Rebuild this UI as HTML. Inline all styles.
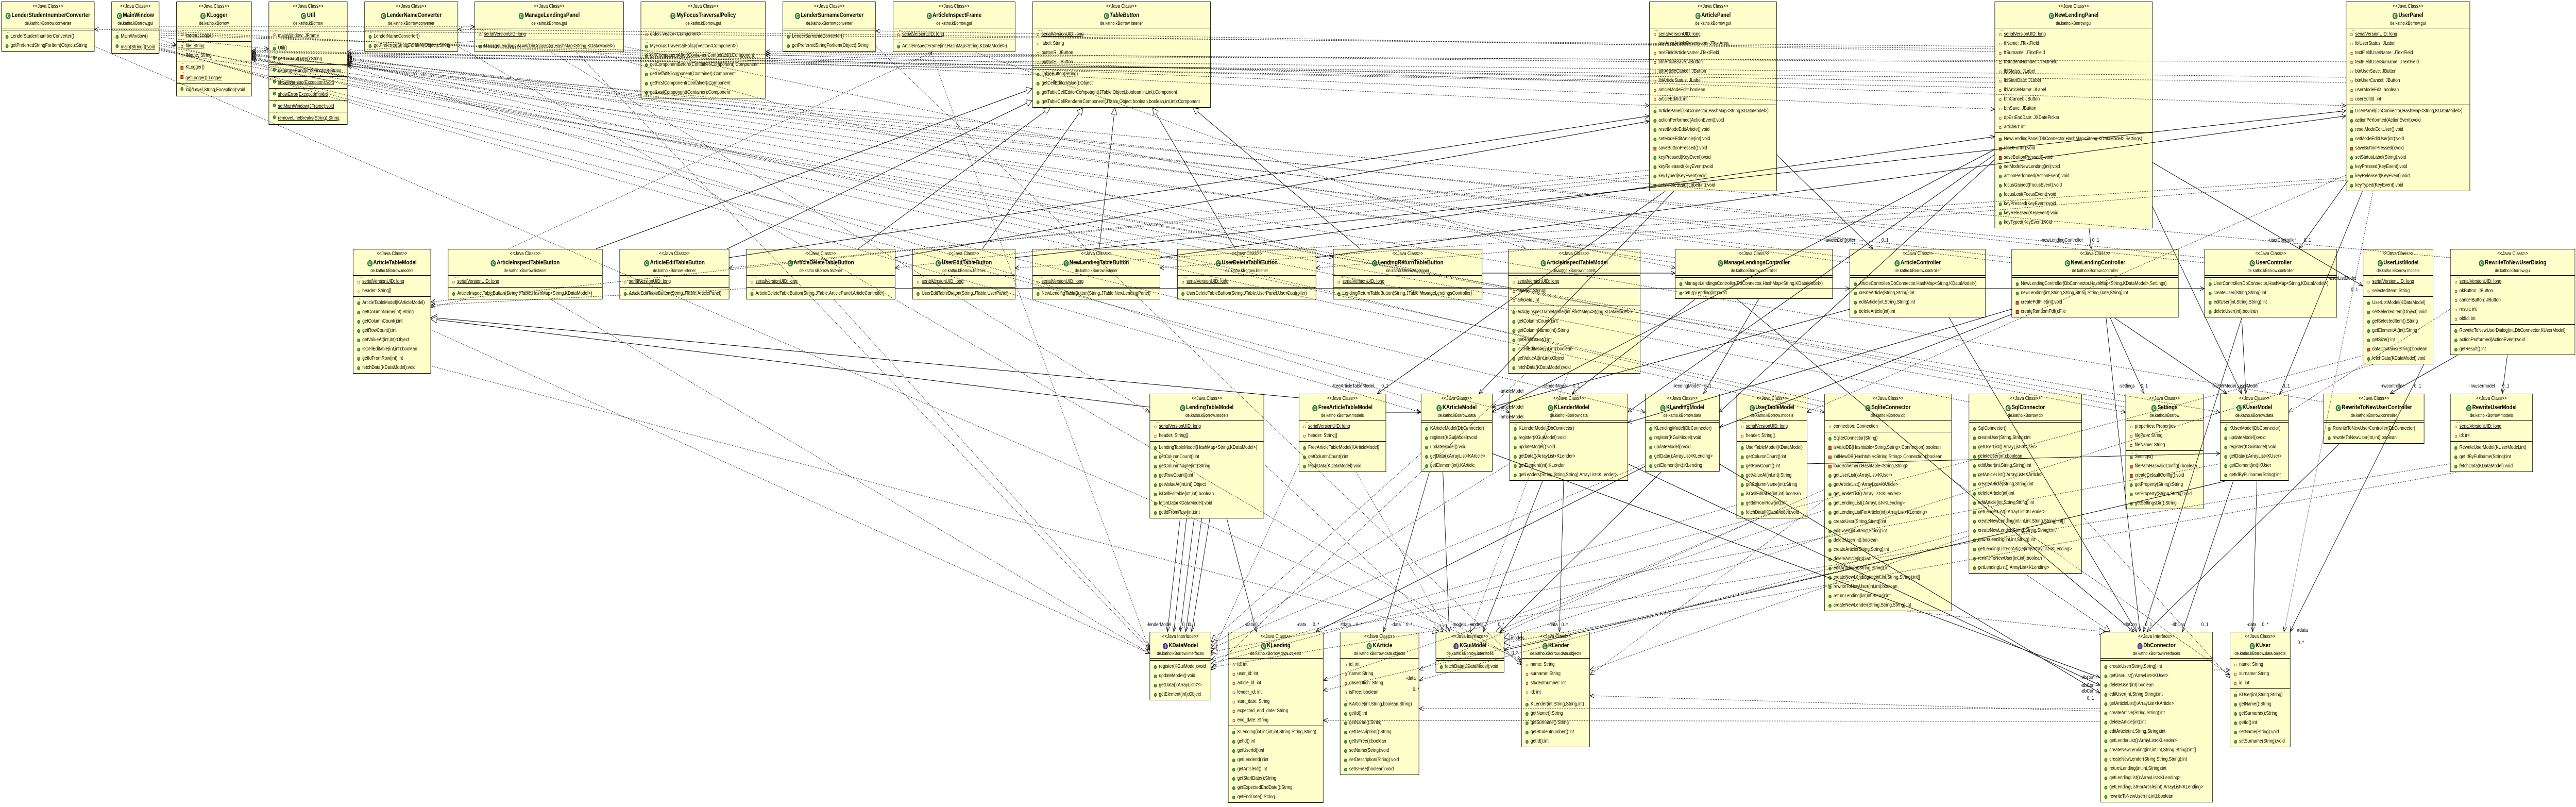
<!DOCTYPE html>
<html><head><meta charset="utf-8">
<style>
*{margin:0;padding:0}
html,body{overflow:hidden;background:#fff}
body{position:relative;width:100%;height:1566px;font-family:"Liberation Sans",Arial,sans-serif;color:#000}
#root{position:absolute;left:0;top:0;width:6079px;height:1566px;transform-origin:0 0;overflow:hidden;background:#fff}
.b{position:absolute;box-sizing:border-box;border:1px solid #000;background:#ffffcc;overflow:hidden}
.h{height:51px;border-bottom:1px solid #000;box-sizing:border-box;text-align:center;padding-top:2px;white-space:nowrap;overflow:hidden}
.st{font-size:10px;line-height:14px}
.nm{font-size:12px;font-weight:bold;line-height:18px}
.pk{font-size:9px;line-height:14px}
.s{padding:3px 0 1px;border-bottom:1px solid #000}
.s.e{padding:2px 0 1px}
.s:last-child{border-bottom:0}
.r{position:relative;height:18px;line-height:18px;padding-left:21px;font-size:10px;white-space:nowrap;overflow:hidden}
.r::before{content:"";position:absolute;left:9px;top:6px;width:7px;height:7px;border-radius:50%;background:#4aa352;box-shadow:inset 0 0 0 1px #2b6f32}
.r.pv::before{border-radius:0;background:#d9534f;box-shadow:inset 0 0 0 1px #8e1f1f}
.r.pa::before{border-radius:0;width:5px;height:5px;left:10px;top:7px;background:#fff;box-shadow:inset 0 0 0 1px #c83232}
.r.pr::before{border-radius:0;width:5px;height:5px;left:10px;top:7px;background:#fff;box-shadow:inset 0 0 0 1px #d4a017;transform:rotate(45deg)}
.r::after{position:absolute;left:13px;top:-4px;font-size:7px;line-height:10px}
.r.k::after{content:"c";color:#2b6f32}
.r.s::after{content:"S";color:#b02020}
.r.f::after{content:"F";color:#2040b0}
.r.sf::after{content:"S F";color:#b02020}
.ci{display:inline-block;width:12px;height:12px;border-radius:50%;background:#3d9447;color:#fff;font-style:normal;font-size:9px;line-height:12px;text-align:center;margin-right:2px;vertical-align:-1px;box-shadow:inset 0 0 0 1px #1f5e27}
.ii{background:#5b4aa8;box-shadow:inset 0 0 0 1px #33256e}
svg{position:absolute;left:0;top:0;overflow:hidden}
svg text{font-family:"Liberation Sans",Arial,sans-serif;font-size:10px;fill:#000;stroke:none}
</style></head><body>
<div id="root">

<!-- ROW 1 -->
<div class="b" style="left:3px;top:3px;width:220px"><div class="h"><div class="st">&lt;&lt;Java Class&gt;&gt;</div><div class="nm"><i class="ci">C</i>LenderStudentnumberConverter</div><div class="pk">de.katho.kBorrow.converter</div></div><div class="s e"></div><div class="s"><div class="r k">LenderStudentnumberConverter()</div><div class="r">getPreferredStringForItem(Object):String</div></div></div>

<div class="b" style="left:263px;top:3px;width:113px"><div class="h"><div class="st">&lt;&lt;Java Class&gt;&gt;</div><div class="nm"><i class="ci">C</i>MainWindow</div><div class="pk">de.katho.kBorrow.gui</div></div><div class="s e"></div><div class="s"><div class="r k">MainWindow()</div><div class="r s"><u>main(String[]):void</u></div></div></div>

<div class="b" style="left:416px;top:3px;width:178px"><div class="h"><div class="st">&lt;&lt;Java Class&gt;&gt;</div><div class="nm"><i class="ci">C</i>KLogger</div><div class="pk">de.katho.kBorrow</div></div><div class="s"><div class="r pa s"><u>logger: Logger</u></div><div class="r pa sf"><u>file: String</u></div><div class="r pa f">fName: String</div></div><div class="s"><div class="r pv k">KLogger()</div><div class="r pv s"><u>getLogger():Logger</u></div><div class="r s"><u>log(Level,String,Exception):void</u></div></div></div>

<div class="b" style="left:634px;top:3px;width:186px"><div class="h"><div class="st">&lt;&lt;Java Class&gt;&gt;</div><div class="nm"><i class="ci">C</i>Util</div><div class="pk">de.katho.kBorrow</div></div><div class="s"><div class="r pa s"><u>mainWindow: JFrame</u></div></div><div class="s"><div class="r k">Util()</div><div class="r s"><u>getCurrentDate():String</u></div><div class="r s"><u>generateRandomString(int):String</u></div><div class="r s"><u>showWarning(Exception):void</u></div><div class="r s"><u>showError(Exception):void</u></div><div class="r s"><u>setMainWindow(JFrame):void</u></div><div class="r s"><u>removeLineBreaks(String):String</u></div></div></div>

<div class="b" style="left:860px;top:3px;width:221px"><div class="h"><div class="st">&lt;&lt;Java Class&gt;&gt;</div><div class="nm"><i class="ci">C</i>LenderNameConverter</div><div class="pk">de.katho.kBorrow.converter</div></div><div class="s e"></div><div class="s"><div class="r k">LenderNameConverter()</div><div class="r">getPreferredStringForItem(Object):String</div></div></div>

<div class="b" style="left:1120px;top:3px;width:352px"><div class="h"><div class="st">&lt;&lt;Java Class&gt;&gt;</div><div class="nm"><i class="ci">C</i>ManageLendingsPanel</div><div class="pk">de.katho.kBorrow.gui</div></div><div class="s"><div class="r pa sf"><u>serialVersionUID: long</u></div></div><div class="s"><div class="r k">ManageLendingsPanel(DbConnector,HashMap&lt;String,KDataModel&gt;)</div></div></div>

<div class="b" style="left:1512px;top:3px;width:295px"><div class="h"><div class="st">&lt;&lt;Java Class&gt;&gt;</div><div class="nm"><i class="ci">C</i>MyFocusTraversalPolicy</div><div class="pk">de.katho.kBorrow.gui</div></div><div class="s"><div class="r pa">order: Vector&lt;Component&gt;</div></div><div class="s"><div class="r k">MyFocusTraversalPolicy(Vector&lt;Component&gt;)</div><div class="r">getComponentAfter(Container,Component):Component</div><div class="r">getComponentBefore(Container,Component):Component</div><div class="r">getDefaultComponent(Container):Component</div><div class="r">getFirstComponent(Container):Component</div><div class="r">getLastComponent(Container):Component</div></div></div>

<div class="b" style="left:1847px;top:3px;width:220px"><div class="h"><div class="st">&lt;&lt;Java Class&gt;&gt;</div><div class="nm"><i class="ci">C</i>LenderSurnameConverter</div><div class="pk">de.katho.kBorrow.converter</div></div><div class="s e"></div><div class="s"><div class="r k">LenderSurnameConverter()</div><div class="r">getPreferredStringForItem(Object):String</div></div></div>

<div class="b" style="left:2107px;top:3px;width:289px"><div class="h"><div class="st">&lt;&lt;Java Class&gt;&gt;</div><div class="nm"><i class="ci">C</i>ArticleInspectFrame</div><div class="pk">de.katho.kBorrow.gui</div></div><div class="s"><div class="r pa sf"><u>serialVersionUID: long</u></div></div><div class="s"><div class="r k">ArticleInspectFrame(int,HashMap&lt;String,KDataModel&gt;)</div></div></div>

<div class="b" style="left:2436px;top:3px;width:421px"><div class="h"><div class="st">&lt;&lt;Java Class&gt;&gt;</div><div class="nm"><i class="ci">C</i><i>TableButton</i></div><div class="pk">de.katho.kBorrow.listener</div></div><div class="s"><div class="r pa sf"><u>serialVersionUID: long</u></div><div class="r pa">label: String</div><div class="r pr">buttonR: JButton</div><div class="r pr">buttonE: JButton</div></div><div class="s"><div class="r k">TableButton(String)</div><div class="r">getCellEditorValue():Object</div><div class="r">getTableCellEditorComponent(JTable,Object,boolean,int,int):Component</div><div class="r">getTableCellRendererComponent(JTable,Object,boolean,boolean,int,int):Component</div></div></div>

<div class="b" style="left:3892px;top:3px;width:301px"><div class="h"><div class="st">&lt;&lt;Java Class&gt;&gt;</div><div class="nm"><i class="ci">C</i>ArticlePanel</div><div class="pk">de.katho.kBorrow.gui</div></div><div class="s"><div class="r pa sf"><u>serialVersionUID: long</u></div><div class="r pa">textAreaArticleDescription: JTextArea</div><div class="r pa">textFieldArticleName: JTextField</div><div class="r pa">btnArticleSave: JButton</div><div class="r pa">btnArticleCancel: JButton</div><div class="r pa">lblArticleStatus: JLabel</div><div class="r pa">articleModeEdit: boolean</div><div class="r pa">articleEditId: int</div></div><div class="s"><div class="r k">ArticlePanel(DbConnector,HashMap&lt;String,KDataModel&gt;)</div><div class="r">actionPerformed(ActionEvent):void</div><div class="r">resetModeEditArticle():void</div><div class="r">setModeEditArticle(int):void</div><div class="r pv">saveButtonPressed():void</div><div class="r">keyPressed(KeyEvent):void</div><div class="r">keyReleased(KeyEvent):void</div><div class="r">keyTyped(KeyEvent):void</div><div class="r">setDeleteStatusLabel(int):void</div></div></div>

<div class="b" style="left:4707px;top:3px;width:373px"><div class="h"><div class="st">&lt;&lt;Java Class&gt;&gt;</div><div class="nm"><i class="ci">C</i>NewLendingPanel</div><div class="pk">de.katho.kBorrow.gui</div></div><div class="s"><div class="r pa sf"><u>serialVersionUID: long</u></div><div class="r pa">tfName: JTextField</div><div class="r pa">tfSurname: JTextField</div><div class="r pa">tfStudentNumber: JTextField</div><div class="r pa">lblStatus: JLabel</div><div class="r pa">lblStartDate: JLabel</div><div class="r pa">lblArticleName: JLabel</div><div class="r pa">btnCancel: JButton</div><div class="r pa">btnSave: JButton</div><div class="r pa">dpEstEndDate: JXDatePicker</div><div class="r pa">articleId: int</div></div><div class="s"><div class="r k">NewLendingPanel(DbConnector,HashMap&lt;String,KDataModel&gt;,Settings)</div><div class="r pv">resetForm():void</div><div class="r pv">saveButtonPressed():void</div><div class="r">setModeNewLending(int):void</div><div class="r">actionPerformed(ActionEvent):void</div><div class="r">focusGained(FocusEvent):void</div><div class="r">focusLost(FocusEvent):void</div><div class="r">keyPressed(KeyEvent):void</div><div class="r">keyReleased(KeyEvent):void</div><div class="r">keyTyped(KeyEvent):void</div></div></div>

<div class="b" style="left:5536px;top:3px;width:293px"><div class="h"><div class="st">&lt;&lt;Java Class&gt;&gt;</div><div class="nm"><i class="ci">C</i>UserPanel</div><div class="pk">de.katho.kBorrow.gui</div></div><div class="s"><div class="r pa sf"><u>serialVersionUID: long</u></div><div class="r pa">lblUserStatus: JLabel</div><div class="r pa">textFieldUserName: JTextField</div><div class="r pa">textFieldUserSurname: JTextField</div><div class="r pa">btnUserSave: JButton</div><div class="r pa">btnUserCancel: JButton</div><div class="r pa">userModeEdit: boolean</div><div class="r pa">userEditId: int</div></div><div class="s"><div class="r k">UserPanel(DbConnector,HashMap&lt;String,KDataModel&gt;)</div><div class="r">actionPerformed(ActionEvent):void</div><div class="r">resetModeEditUser():void</div><div class="r">setModeEditUser(int):void</div><div class="r pv">saveButtonPressed():void</div><div class="r">setStatusLabel(String):void</div><div class="r">keyPressed(KeyEvent):void</div><div class="r">keyReleased(KeyEvent):void</div><div class="r">keyTyped(KeyEvent):void</div></div></div>

<!-- ROW 2 -->
<div class="b" style="left:833px;top:483px;width:184px"><div class="h"><div class="st">&lt;&lt;Java Class&gt;&gt;</div><div class="nm"><i class="ci">C</i>ArticleTableModel</div><div class="pk">de.katho.kBorrow.models</div></div><div class="s"><div class="r pa sf"><u>serialVersionUID: long</u></div><div class="r pr">header: String[]</div></div><div class="s"><div class="r k">ArticleTableModel(KArticleModel)</div><div class="r">getColumnName(int):String</div><div class="r">getColumnCount():int</div><div class="r">getRowCount():int</div><div class="r">getValueAt(int,int):Object</div><div class="r">isCellEditable(int,int):boolean</div><div class="r">getIdFromRow(int):int</div><div class="r">fetchData(KDataModel):void</div></div></div>

<div class="b" style="left:1057px;top:483px;width:365px"><div class="h"><div class="st">&lt;&lt;Java Class&gt;&gt;</div><div class="nm"><i class="ci">C</i>ArticleInspectTableButton</div><div class="pk">de.katho.kBorrow.listener</div></div><div class="s"><div class="r pa sf"><u>serialVersionUID: long</u></div></div><div class="s"><div class="r k">ArticleInspectTableButton(String,JTable,HashMap&lt;String,KDataModel&gt;)</div></div></div>

<div class="b" style="left:1462px;top:483px;width:259px"><div class="h"><div class="st">&lt;&lt;Java Class&gt;&gt;</div><div class="nm"><i class="ci">C</i>ArticleEditTableButton</div><div class="pk">de.katho.kBorrow.listener</div></div><div class="s"><div class="r pa sf"><u>serialVersionUID: long</u></div></div><div class="s"><div class="r k">ArticleEditTableButton(String,JTable,ArticlePanel)</div></div></div>

<div class="b" style="left:1761px;top:483px;width:352px"><div class="h"><div class="st">&lt;&lt;Java Class&gt;&gt;</div><div class="nm"><i class="ci">C</i>ArticleDeleteTableButton</div><div class="pk">de.katho.kBorrow.listener</div></div><div class="s"><div class="r pa sf"><u>serialVersionUID: long</u></div></div><div class="s"><div class="r k">ArticleDeleteTableButton(String,JTable,ArticlePanel,ArticleController)</div></div></div>

<div class="b" style="left:2153px;top:483px;width:243px"><div class="h"><div class="st">&lt;&lt;Java Class&gt;&gt;</div><div class="nm"><i class="ci">C</i>UserEditTableButton</div><div class="pk">de.katho.kBorrow.listener</div></div><div class="s"><div class="r pa sf"><u>serialVersionUID: long</u></div></div><div class="s"><div class="r k">UserEditTableButton(String,JTable,UserPanel)</div></div></div>

<div class="b" style="left:2436px;top:483px;width:302px"><div class="h"><div class="st">&lt;&lt;Java Class&gt;&gt;</div><div class="nm"><i class="ci">C</i>NewLendingTableButton</div><div class="pk">de.katho.kBorrow.listener</div></div><div class="s"><div class="r pa sf"><u>serialVersionUID: long</u></div></div><div class="s"><div class="r k">NewLendingTableButton(String,JTable,NewLendingPanel)</div></div></div>

<div class="b" style="left:2778px;top:483px;width:328px"><div class="h"><div class="st">&lt;&lt;Java Class&gt;&gt;</div><div class="nm"><i class="ci">C</i>UserDeleteTableButton</div><div class="pk">de.katho.kBorrow.listener</div></div><div class="s"><div class="r pa sf"><u>serialVersionUID: long</u></div></div><div class="s"><div class="r k">UserDeleteTableButton(String,JTable,UserPanel,UserController)</div></div></div>

<div class="b" style="left:3146px;top:483px;width:352px"><div class="h"><div class="st">&lt;&lt;Java Class&gt;&gt;</div><div class="nm"><i class="ci">C</i>LendingReturnTableButton</div><div class="pk">de.katho.kBorrow.listener</div></div><div class="s"><div class="r pa sf"><u>serialVersionUID: long</u></div></div><div class="s"><div class="r k">LendingReturnTableButton(String,JTable,ManageLendingsController)</div></div></div>

<div class="b" style="left:3559px;top:483px;width:312px"><div class="h"><div class="st">&lt;&lt;Java Class&gt;&gt;</div><div class="nm"><i class="ci">C</i>ArticleInspectTableModel</div><div class="pk">de.katho.kBorrow.models</div></div><div class="s"><div class="r pa sf"><u>serialVersionUID: long</u></div><div class="r pa">header: String[]</div><div class="r pa">articleId: int</div></div><div class="s"><div class="r k">ArticleInspectTableModel(int,HashMap&lt;String,KDataModel&gt;)</div><div class="r">getColumnCount():int</div><div class="r">getColumnName(int):String</div><div class="r">getRowCount():int</div><div class="r">isCellEditable(int,int):boolean</div><div class="r">getValueAt(int,int):Object</div><div class="r">fetchData(KDataModel):void</div></div></div>

<div class="b" style="left:3953px;top:483px;width:372px"><div class="h"><div class="st">&lt;&lt;Java Class&gt;&gt;</div><div class="nm"><i class="ci">C</i>ManageLendingsController</div><div class="pk">de.katho.kBorrow.controller</div></div><div class="s e"></div><div class="s"><div class="r k">ManageLendingsController(DbConnector,HashMap&lt;String,KDataModel&gt;)</div><div class="r">returnLending(int):void</div></div></div>

<div class="b" style="left:4365px;top:483px;width:321px"><div class="h"><div class="st">&lt;&lt;Java Class&gt;&gt;</div><div class="nm"><i class="ci">C</i>ArticleController</div><div class="pk">de.katho.kBorrow.controller</div></div><div class="s e"></div><div class="s"><div class="r k">ArticleController(DbConnector,HashMap&lt;String,KDataModel&gt;)</div><div class="r">createArticle(String,String):int</div><div class="r">editArticle(int,String,String):int</div><div class="r">deleteArticle(int):int</div></div></div>

<div class="b" style="left:4747px;top:483px;width:394px"><div class="h"><div class="st">&lt;&lt;Java Class&gt;&gt;</div><div class="nm"><i class="ci">C</i>NewLendingController</div><div class="pk">de.katho.kBorrow.controller</div></div><div class="s e"></div><div class="s"><div class="r k">NewLendingController(DbConnector,HashMap&lt;String,KDataModel&gt;,Settings)</div><div class="r">newLending(int,String,String,String,String,Date,String):int</div><div class="r pv">createPdfFile(int):void</div><div class="r pv">createRandomPdf():File</div></div></div>

<div class="b" style="left:5202px;top:483px;width:313px"><div class="h"><div class="st">&lt;&lt;Java Class&gt;&gt;</div><div class="nm"><i class="ci">C</i>UserController</div><div class="pk">de.katho.kBorrow.controller</div></div><div class="s e"></div><div class="s"><div class="r k">UserController(DbConnector,HashMap&lt;String,KDataModel&gt;)</div><div class="r">createUser(String,String):int</div><div class="r">editUser(int,String,String):int</div><div class="r">deleteUser(int):boolean</div></div></div>

<div class="b" style="left:5576px;top:483px;width:166px"><div class="h"><div class="st">&lt;&lt;Java Class&gt;&gt;</div><div class="nm"><i class="ci">C</i>UserListModel</div><div class="pk">de.katho.kBorrow.models</div></div><div class="s"><div class="r pa sf"><u>serialVersionUID: long</u></div><div class="r pr">selectedItem: String</div></div><div class="s"><div class="r k">UserListModel(KDataModel)</div><div class="r">setSelectedItem(Object):void</div><div class="r">getSelectedItem():String</div><div class="r">getElementAt(int):String</div><div class="r">getSize():int</div><div class="r pv">dataContains(String):boolean</div><div class="r">fetchData(KDataModel):void</div></div></div>

<div class="b" style="left:5782px;top:483px;width:295px"><div class="h"><div class="st">&lt;&lt;Java Class&gt;&gt;</div><div class="nm"><i class="ci">C</i>RewriteToNewUserDialog</div><div class="pk">de.katho.kBorrow.gui</div></div><div class="s"><div class="r pa sf"><u>serialVersionUID: long</u></div><div class="r pa">okButton: JButton</div><div class="r pa">cancelButton: JButton</div><div class="r pa">result: int</div><div class="r pa">oldId: int</div></div><div class="s"><div class="r k">RewriteToNewUserDialog(int,DbConnector,KUserModel)</div><div class="r">actionPerformed(ActionEvent):void</div><div class="r">getResult():int</div></div></div>

<!-- ROW 3 -->
<div class="b" style="left:2713px;top:764px;width:270px"><div class="h"><div class="st">&lt;&lt;Java Class&gt;&gt;</div><div class="nm"><i class="ci">C</i>LendingTableModel</div><div class="pk">de.katho.kBorrow.models</div></div><div class="s"><div class="r pa sf"><u>serialVersionUID: long</u></div><div class="r pa">header: String[]</div></div><div class="s"><div class="r k">LendingTableModel(HashMap&lt;String,KDataModel&gt;)</div><div class="r">getColumnCount():int</div><div class="r">getColumnName(int):String</div><div class="r">getRowCount():int</div><div class="r">getValueAt(int,int):Object</div><div class="r">isCellEditable(int,int):boolean</div><div class="r">fetchData(KDataModel):void</div><div class="r">getIdFromRow(int):int</div></div></div>

<div class="b" style="left:3065px;top:764px;width:206px"><div class="h"><div class="st">&lt;&lt;Java Class&gt;&gt;</div><div class="nm"><i class="ci">C</i>FreeArticleTableModel</div><div class="pk">de.katho.kBorrow.models</div></div><div class="s"><div class="r pa sf"><u>serialVersionUID: long</u></div><div class="r pa">header: String[]</div></div><div class="s"><div class="r k">FreeArticleTableModel(KArticleModel)</div><div class="r">getColumnCount():int</div><div class="r">fetchData(KDataModel):void</div></div></div>

<div class="b" style="left:3353px;top:764px;width:169px"><div class="h"><div class="st">&lt;&lt;Java Class&gt;&gt;</div><div class="nm"><i class="ci">C</i>KArticleModel</div><div class="pk">de.katho.kBorrow.data</div></div><div class="s e"></div><div class="s"><div class="r k">KArticleModel(DbConnector)</div><div class="r">register(KGuiModel):void</div><div class="r">updateModel():void</div><div class="r">getData():ArrayList&lt;KArticle&gt;</div><div class="r">getElement(int):KArticle</div></div></div>

<div class="b" style="left:3562px;top:764px;width:280px"><div class="h"><div class="st">&lt;&lt;Java Class&gt;&gt;</div><div class="nm"><i class="ci">C</i>KLenderModel</div><div class="pk">de.katho.kBorrow.data</div></div><div class="s e"></div><div class="s"><div class="r k">KLenderModel(DbConnector)</div><div class="r">register(KGuiModel):void</div><div class="r">updateModel():void</div><div class="r">getData():ArrayList&lt;KLender&gt;</div><div class="r">getElement(int):KLender</div><div class="r">getLenders(String,String,String):ArrayList&lt;KLender&gt;</div></div></div>

<div class="b" style="left:3882px;top:764px;width:176px"><div class="h"><div class="st">&lt;&lt;Java Class&gt;&gt;</div><div class="nm"><i class="ci">C</i>KLendingModel</div><div class="pk">de.katho.kBorrow.data</div></div><div class="s e"></div><div class="s"><div class="r k">KLendingModel(DbConnector)</div><div class="r">register(KGuiModel):void</div><div class="r">updateModel():void</div><div class="r">getData():ArrayList&lt;KLending&gt;</div><div class="r">getElement(int):KLending</div></div></div>

<div class="b" style="left:4098px;top:764px;width:167px"><div class="h"><div class="st">&lt;&lt;Java Class&gt;&gt;</div><div class="nm"><i class="ci">C</i>UserTableModel</div><div class="pk">de.katho.kBorrow.models</div></div><div class="s"><div class="r pa sf"><u>serialVersionUID: long</u></div><div class="r pa">header: String[]</div></div><div class="s"><div class="r k">UserTableModel(KDataModel)</div><div class="r">getColumnCount():int</div><div class="r">getRowCount():int</div><div class="r">getValueAt(int,int):String</div><div class="r">getColumnName(int):String</div><div class="r">isCellEditable(int,int):boolean</div><div class="r">getIdFromRow(int):int</div><div class="r">fetchData(KDataModel):void</div></div></div>

<div class="b" style="left:4305px;top:764px;width:301px"><div class="h"><div class="st">&lt;&lt;Java Class&gt;&gt;</div><div class="nm"><i class="ci">C</i>SqliteConnector</div><div class="pk">de.katho.kBorrow.db</div></div><div class="s"><div class="r pa">connection: Connection</div></div><div class="s"><div class="r k">SqliteConnector(String)</div><div class="r pv">isValidDB(Hashtable&lt;String,String&gt;,Connection):boolean</div><div class="r pv">initNewDB(Hashtable&lt;String,String&gt;,Connection):boolean</div><div class="r pv">loadScheme():Hashtable&lt;String,String&gt;</div><div class="r">getUserList():ArrayList&lt;KUser&gt;</div><div class="r">getArticleList():ArrayList&lt;KArticle&gt;</div><div class="r">getLenderList():ArrayList&lt;KLender&gt;</div><div class="r">getLendingList():ArrayList&lt;KLending&gt;</div><div class="r">getLendingListForArticle(int):ArrayList&lt;KLending&gt;</div><div class="r">createUser(String,String):int</div><div class="r">editUser(int,String,String):int</div><div class="r">deleteUser(int):boolean</div><div class="r">createArticle(String,String):int</div><div class="r">deleteArticle(int):int</div><div class="r">editArticle(int,String,String):int</div><div class="r">createNewLending(int,int,int,String,String):int[]</div><div class="r">rewriteToNewUser(int,int):boolean</div><div class="r">returnLending(int,int,String):int</div><div class="r">createNewLender(String,String,String):int</div></div></div>

<div class="b" style="left:4646px;top:764px;width:267px"><div class="h"><div class="st">&lt;&lt;Java Class&gt;&gt;</div><div class="nm"><i class="ci">C</i>SqlConnector</div><div class="pk">de.katho.kBorrow.db</div></div><div class="s e"></div><div class="s"><div class="r k">SqlConnector()</div><div class="r">createUser(String,String):int</div><div class="r">getUserList():ArrayList&lt;KUser&gt;</div><div class="r">deleteUser(int):boolean</div><div class="r">editUser(int,String,String):int</div><div class="r">getArticleList():ArrayList&lt;KArticle&gt;</div><div class="r">createArticle(String,String):int</div><div class="r">deleteArticle(int):int</div><div class="r">editArticle(int,String,String):int</div><div class="r">getLenderList():ArrayList&lt;KLender&gt;</div><div class="r">createNewLending(int,int,int,String,String):int[]</div><div class="r">createNewLender(String,String,String):int</div><div class="r">returnLending(int,int,String):int</div><div class="r">getLendingListForArticle(int):ArrayList&lt;KLending&gt;</div><div class="r">rewriteToNewUser(int,int):boolean</div><div class="r">getLendingList():ArrayList&lt;KLending&gt;</div></div></div>

<div class="b" style="left:5016px;top:764px;width:184px"><div class="h"><div class="st">&lt;&lt;Java Class&gt;&gt;</div><div class="nm"><i class="ci">C</i>Settings</div><div class="pk">de.katho.kBorrow</div></div><div class="s"><div class="r pa">properties: Properties</div><div class="r pa f">filePath: String</div><div class="r pa f">fileName: String</div></div><div class="s"><div class="r k">Settings()</div><div class="r pv">filePathHasValidConfig():boolean</div><div class="r pv">createDefaultConfig():void</div><div class="r">getProperty(String):String</div><div class="r">setProperty(String,String):void</div><div class="r">getSettingsDir():String</div></div></div>

<div class="b" style="left:5239px;top:764px;width:162px"><div class="h"><div class="st">&lt;&lt;Java Class&gt;&gt;</div><div class="nm"><i class="ci">C</i>KUserModel</div><div class="pk">de.katho.kBorrow.data</div></div><div class="s e"></div><div class="s"><div class="r k">KUserModel(DbConnector)</div><div class="r">updateModel():void</div><div class="r">register(KGuiModel):void</div><div class="r">getData():ArrayList&lt;KUser&gt;</div><div class="r">getElement(int):KUser</div><div class="r">getIdByFullname(String):int</div></div></div>

<div class="b" style="left:5483px;top:764px;width:238px"><div class="h"><div class="st">&lt;&lt;Java Class&gt;&gt;</div><div class="nm"><i class="ci">C</i>RewriteToNewUserController</div><div class="pk">de.katho.kBorrow.controller</div></div><div class="s e"></div><div class="s"><div class="r k">RewriteToNewUserController(DbConnector)</div><div class="r">rewriteToNewUser(int,int):boolean</div></div></div>

<div class="b" style="left:5782px;top:764px;width:195px"><div class="h"><div class="st">&lt;&lt;Java Class&gt;&gt;</div><div class="nm"><i class="ci">C</i>RewriteUserModel</div><div class="pk">de.katho.kBorrow.models</div></div><div class="s"><div class="r pa sf"><u>serialVersionUID: long</u></div><div class="r pa">id: int</div></div><div class="s"><div class="r k">RewriteUserModel(KUserModel,int)</div><div class="r">getIdByFullname(String):int</div><div class="r">fetchData(KDataModel):void</div></div></div>

<!-- ROW 4 -->
<div class="b" style="left:2713px;top:1226px;width:145px"><div class="h"><div class="st">&lt;&lt;Java Interface&gt;&gt;</div><div class="nm"><i class="ci ii">I</i>KDataModel</div><div class="pk">de.katho.kBorrow.interfaces</div></div><div class="s e"></div><div class="s"><div class="r">register(KGuiModel):void</div><div class="r">updateModel():void</div><div class="r">getData():ArrayList&lt;?&gt;</div><div class="r">getElement(int):Object</div></div></div>

<div class="b" style="left:2898px;top:1226px;width:225px"><div class="h"><div class="st">&lt;&lt;Java Class&gt;&gt;</div><div class="nm"><i class="ci">C</i>KLending</div><div class="pk">de.katho.kBorrow.data.objects</div></div><div class="s"><div class="r pa">id: int</div><div class="r pa">user_id: int</div><div class="r pa">article_id: int</div><div class="r pa">lender_id: int</div><div class="r pa">start_date: String</div><div class="r pa">expected_end_date: String</div><div class="r pa">end_date: String</div></div><div class="s"><div class="r k">KLending(int,int,int,int,String,String,String)</div><div class="r">getId():int</div><div class="r">getUserId():int</div><div class="r">getLenderId():int</div><div class="r">getArticleId():int</div><div class="r">getStartDate():String</div><div class="r">getExpectedEndDate():String</div><div class="r">getEndDate():String</div></div></div>

<div class="b" style="left:3162px;top:1226px;width:187px"><div class="h"><div class="st">&lt;&lt;Java Class&gt;&gt;</div><div class="nm"><i class="ci">C</i>KArticle</div><div class="pk">de.katho.kBorrow.data.objects</div></div><div class="s"><div class="r pa">id: int</div><div class="r pa">name: String</div><div class="r pa">description: String</div><div class="r pa">isFree: boolean</div></div><div class="s"><div class="r k">KArticle(int,String,boolean,String)</div><div class="r">getId():int</div><div class="r">getName():String</div><div class="r">getDescription():String</div><div class="r">getIsFree():boolean</div><div class="r">setName(String):void</div><div class="r">setDescription(String):void</div><div class="r">setIsFree(boolean):void</div></div></div>

<div class="b" style="left:3388px;top:1226px;width:162px"><div class="h"><div class="st">&lt;&lt;Java Interface&gt;&gt;</div><div class="nm"><i class="ci ii">I</i>KGuiModel</div><div class="pk">de.katho.kBorrow.interfaces</div></div><div class="s e"></div><div class="s"><div class="r">fetchData(KDataModel):void</div></div></div>

<div class="b" style="left:3590px;top:1226px;width:162px"><div class="h"><div class="st">&lt;&lt;Java Class&gt;&gt;</div><div class="nm"><i class="ci">C</i>KLender</div><div class="pk">de.katho.kBorrow.data.objects</div></div><div class="s"><div class="r pa">name: String</div><div class="r pa">surname: String</div><div class="r pa">studentnumber: int</div><div class="r pa">id: int</div></div><div class="s"><div class="r k">KLender(int,String,String,int)</div><div class="r">getName():String</div><div class="r">getSurname():String</div><div class="r">getStudentnumber():int</div><div class="r">getId():int</div></div></div>

<div class="b" style="left:4956px;top:1226px;width:266px"><div class="h"><div class="st">&lt;&lt;Java Interface&gt;&gt;</div><div class="nm"><i class="ci ii">I</i>DbConnector</div><div class="pk">de.katho.kBorrow.interfaces</div></div><div class="s e"></div><div class="s"><div class="r">createUser(String,String):int</div><div class="r">getUserList():ArrayList&lt;KUser&gt;</div><div class="r">deleteUser(int):boolean</div><div class="r">editUser(int,String,String):int</div><div class="r">getArticleList():ArrayList&lt;KArticle&gt;</div><div class="r">createArticle(String,String):int</div><div class="r">deleteArticle(int):int</div><div class="r">editArticle(int,String,String):int</div><div class="r">getLenderList():ArrayList&lt;KLender&gt;</div><div class="r">createNewLending(int,int,int,String,String):int[]</div><div class="r">createNewLender(String,String,String):int</div><div class="r">returnLending(int,int,String):int</div><div class="r">getLendingList():ArrayList&lt;KLending&gt;</div><div class="r">getLendingListForArticle(int):ArrayList&lt;KLending&gt;</div><div class="r">rewriteToNewUser(int,int):boolean</div></div></div>

<div class="b" style="left:5262px;top:1226px;width:143px"><div class="h"><div class="st">&lt;&lt;Java Class&gt;&gt;</div><div class="nm"><i class="ci">C</i>KUser</div><div class="pk">de.katho.kBorrow.data.objects</div></div><div class="s"><div class="r pa">name: String</div><div class="r pa">surname: String</div><div class="r pa">id: int</div></div><div class="s"><div class="r k">KUser(int,String,String)</div><div class="r">getName():String</div><div class="r">getSurname():String</div><div class="r">getId():int</div><div class="r">setName(String):void</div><div class="r">setSurname(String):void</div></div></div>

<svg width="6079" height="1566" viewBox="0 0 6079 1566">
<defs>
<marker id="oa" viewBox="0 0 10 10" refX="10" refY="5" markerWidth="10" markerHeight="10" markerUnits="userSpaceOnUse" orient="auto"><path d="M0,1 L10,5 L0,9" fill="none" stroke="#000" stroke-width="1"/></marker>
<marker id="ht" viewBox="0 0 14 14" refX="14" refY="7" markerWidth="14" markerHeight="14" markerUnits="userSpaceOnUse" orient="auto"><path d="M0,0 L14,7 L0,14 Z" fill="#fff" stroke="#000" stroke-width="1"/></marker>
</defs>
<g fill="none" stroke="#000" stroke-width="1" marker-end="url(#ht)">
<path d="M1406 483L2436 172"/><path d="M1716 483L2436 195"/><path d="M2025 483L2478 209"/><path d="M2318 483L2556 209"/><path d="M2594 483L2631 209"/><path d="M2915 483L2720 209"/><path d="M3210 483L2815 209"/>
<path d="M3065 772L1017 616"/><path d="M2713 790L1017 619"/>
</g>
<g fill="none" stroke="#222" stroke-width="1" stroke-dasharray="2 2" marker-end="url(#ht)">
<path d="M3353 880L2858 1245"/><path d="M3562 900L2858 1252"/><path d="M3882 900L2858 1258"/><path d="M5239 900L2858 1265"/>
<path d="M1016 710L3395 1226"/><path d="M2982 900L3405 1226"/><path d="M3200 916L3415 1226"/><path d="M3700 725L3470 1226"/><path d="M4150 1006L3530 1226"/><path d="M5600 707L3549 1238"/><path d="M5800 916L3549 1248"/>
<path d="M4500 1186L4968 1226"/><path d="M4780 1114L4980 1226"/>
</g>
<g fill="none" stroke="#000" stroke-width="1" marker-end="url(#oa)">
<path d="M2785 1006L2755 1226"/><path d="M2800 1006L2770 1226"/><path d="M2818 1006L2785 1226"/><path d="M2836 1006L2798 1226"/><path d="M2855 1006L2812 1226"/>
<path d="M2895 1006L2965 1226"/><path d="M3373 916L3265 1226"/><path d="M3405 916L3420 1226"/><path d="M3690 934L3680 1226"/><path d="M3640 934L3500 1226"/><path d="M3920 916L3540 1226"/><path d="M3882 905L3105 1226"/><path d="M5326 934L5316 1226"/><path d="M5250 934L3549 1262"/>
<path d="M3521 880L4956 1315"/><path d="M3841 900L4956 1330"/><path d="M4057 900L4956 1345"/><path d="M5270 934L5150 1226"/>
<path d="M4100 581L5035 1226"/><path d="M4600 617L5042 1226"/><path d="M4970 617L5050 1226"/><path d="M5290 617L5058 1226"/><path d="M5520 862L5066 1226"/><path d="M5720 707L5404 1226"/>
<path d="M4192 300L4420 483"/><path d="M4930 443L4935 483"/><path d="M5541 350L5425 483"/><path d="M5079 315L5576 555"/><path d="M4980 617L5060 764"/><path d="M4990 617L5255 764"/><path d="M5290 617L5300 764"/><path d="M5575 371L5380 764"/><path d="M5800 689L5640 764"/><path d="M5917 689L5905 764"/><path d="M5079 400L5290 764"/>
<path d="M4000 581L3710 764"/><path d="M4150 581L4020 764"/><path d="M3930 371L3250 764"/><path d="M4365 600L3521 790"/><path d="M3950 371L3490 764"/>
<path d="M4707 290L3521 800"/><path d="M4707 300L3841 800"/><path d="M4707 310L4057 800"/><path d="M3270 800L3353 800"/><path d="M4264 900L5239 880"/>
<path d="M1720 500L3892 225"/><path d="M2112 500L3892 235"/><path d="M2112 560L4365 560"/><path d="M2395 500L5536 215"/><path d="M3105 500L5536 225"/><path d="M3105 560L5202 560"/><path d="M2737 500L4707 265"/><path d="M3497 530L3953 530"/>
<path d="M4747 600L3841 820"/><path d="M4747 610L4057 830"/>
</g>
<g fill="none" stroke="#222" stroke-width="1" stroke-dasharray="2 2" marker-end="url(#oa)">
<path d="M3892 150L594 98"/><path d="M4707 160L594 100"/><path d="M5536 150L594 102"/><path d="M4365 500L594 104"/><path d="M4747 500L594 106"/><path d="M5202 500L594 108"/><path d="M4305 780L594 110"/><path d="M4646 780L594 112"/><path d="M5016 780L594 114"/><path d="M3953 500L594 116"/>
<path d="M3892 160L820 106"/><path d="M4707 170L820 108"/><path d="M5536 160L820 110"/><path d="M4365 510L820 112"/><path d="M4747 510L820 114"/><path d="M5202 510L820 116"/><path d="M3953 510L820 118"/><path d="M4305 790L820 120"/><path d="M5016 790L820 122"/><path d="M5782 500L820 124"/><path d="M5483 780L820 126"/><path d="M1120 80L820 100"/><path d="M3353 780L820 128"/>
<path d="M376 52L1120 52"/><path d="M376 60L3892 205"/><path d="M376 64L4707 212"/><path d="M376 68L5536 205"/><path d="M376 72L634 95"/><path d="M376 76L416 88"/><path d="M376 84L4305 800"/><path d="M376 88L5016 800"/><path d="M376 92L3353 800"/><path d="M376 94L3562 800"/><path d="M376 96L3882 800"/><path d="M376 98L5239 800"/>
<path d="M3892 120L1807 100"/><path d="M4707 120L1807 104"/><path d="M5536 120L1807 108"/>
<path d="M4707 90L223 57"/><path d="M4707 95L1081 57"/><path d="M4707 100L2067 60"/>
<path d="M3892 330L1017 586"/><path d="M3892 340L1720 520"/><path d="M3892 345L2112 520"/><path d="M5536 340L4264 800"/><path d="M5536 345L2395 520"/><path d="M5536 350L3105 520"/><path d="M4707 400L2737 520"/>
<path d="M1300 101L2713 800"/><path d="M1400 101L3146 500"/><path d="M1471 90L3953 520"/><path d="M2300 101L3600 483"/><path d="M1200 483L2200 101"/>
<path d="M1017 640L2713 1268"/><path d="M1300 581L2713 1268"/><path d="M2197 101L2713 1262"/><path d="M1360 101L2713 1262"/><path d="M1968 581L2713 1255"/>
<path d="M3065 900L2858 1272"/><path d="M4098 980L2858 1280"/><path d="M5576 690L2858 1288"/><path d="M5782 900L2858 1295"/><path d="M3600 725L2858 1300"/>
<path d="M223 90L3590 1280"/><path d="M1081 90L3590 1285"/><path d="M2067 90L3590 1290"/>
<path d="M4956 1380L3752 1350"/><path d="M4956 1375L3349 1375"/><path d="M4956 1400L3123 1398"/>
<path d="M4605 930L5262 1310"/><path d="M4912 1000L5262 1315"/><path d="M5221 1300L5262 1300"/>
<path d="M4305 950L3349 1300"/><path d="M4305 970L3752 1310"/><path d="M4305 990L3123 1320"/><path d="M4646 1050L3123 1340"/><path d="M4646 1030L3349 1320"/><path d="M4646 1040L3752 1300"/>
<path d="M5782 600L5401 800"/><path d="M1100 581L1017 596"/><path d="M1761 560L1017 592"/><path d="M5600 371L5390 1226"/>
</g>
<text x="4305" y="469">-articleController</text><text x="4440" y="469">0..1</text>
<text x="4815" y="469">-newLendingController</text><text x="4937" y="469">0..1</text>
<text x="5352" y="469">-userController</text><text x="5437" y="469">0..1</text>
<text x="5495" y="543">-userListModel</text><text x="5548" y="565">0..1</text>
<text x="5000" y="752">-settings</text><text x="5052" y="752">0..1</text>
<text x="5220" y="752">-kUserModel -userModel</text><text x="5387" y="752">0..1</text>
<text x="5618" y="752">-rwcontroller</text><text x="5697" y="752">0..1</text>
<text x="5827" y="752">-rwusermodel</text><text x="5905" y="752">0..1</text>
<text x="3143" y="752">-freeArticleTableModel</text><text x="3260" y="752">0..1</text>
<text x="3641" y="752">-lenderModel</text><text x="3712" y="752">0..1</text>
<text x="3948" y="752">-lendingModel</text><text x="4022" y="752">0..1</text>
<text x="3538" y="762">-articleModel</text><text x="3538" y="793">-articleModel</text><text x="3538" y="812">-articleModel</text>
<text x="2706" y="1215">-lenderModel</text><text x="2790" y="1215">0..1</text><text x="2805" y="1215">0..1</text>
<text x="2937" y="1215">-data</text><text x="2962" y="1215">0..*</text>
<text x="3060" y="1215">-data</text><text x="3098" y="1215">0..*</text>
<text x="3163" y="1215">#data</text><text x="3200" y="1215">0..*</text>
<text x="3283" y="1215">-data</text><text x="3318" y="1215">0..*</text>
<text x="3425" y="1215">-models</text><text x="3465" y="1215">-models</text><text x="3535" y="1215">0..*</text>
<text x="3653" y="1215">-data</text><text x="3685" y="1215">0..*</text>
<text x="5302" y="1215">-data</text><text x="5338" y="1215">0..*</text>
<text x="5421" y="1226">#data</text><text x="5422" y="1250">0..*</text>
<text x="5124" y="1215">-dbCon</text><text x="5195" y="1215">0..1</text>
<text x="5010" y="1215">-dbCon</text><text x="5062" y="1215">0..1</text>
<text x="4910" y="1318">-dbCon</text><text x="4910" y="1333">-dbCon</text><text x="4910" y="1344">-dbCon</text><text x="4925" y="1358">0..1</text>
<text x="3562" y="1241">-models</text><text x="3567" y="1270">0..*</text>
<text x="3318" y="1319">-data</text><text x="3334" y="1341">0..*</text>
</svg>
</div>
<script>
(function(){
  var r=document.getElementById('root');
  var w=document.documentElement.clientWidth||window.innerWidth||6079;
  if(w>0&&w<6070){r.style.transform='scaleX('+(w/6079)+')';}
})();
</script>
</body></html>
